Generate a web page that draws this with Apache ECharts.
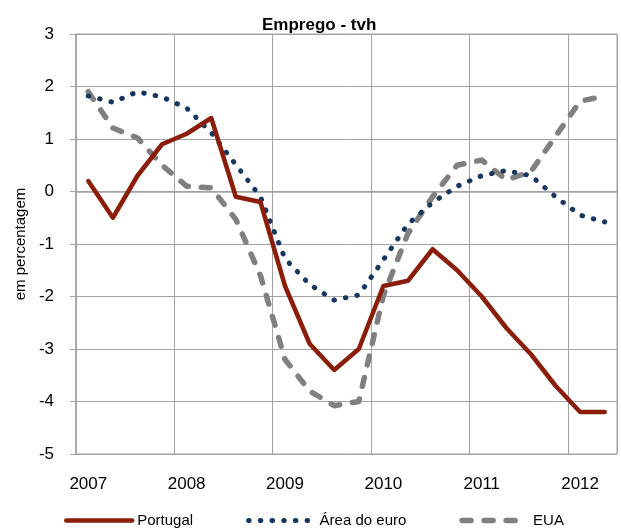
<!DOCTYPE html>
<html>
<head>
<meta charset="utf-8">
<script src="https://cdn.jsdelivr.net/npm/echarts@6/dist/echarts.min.js"></script>
<style>
html,body{margin:0;padding:0;background:#fff;}
#chart{width:621px;height:532px;}
</style>
</head>
<body>
<div id="chart"></div>
<script>
// Quarterly categories 2007 T1 .. 2012 T2
var categories = ['2007T1','2007T2','2007T3','2007T4','2008T1','2008T2','2008T3','2008T4',
  '2009T1','2009T2','2009T3','2009T4','2010T1','2010T2','2010T3','2010T4',
  '2011T1','2011T2','2011T3','2011T4','2012T1','2012T2'];
var yTicks = [-5, -4, -3, -2, -1, 0, 1, 2, 3];
var portugal = [0.2, -0.5, 0.3, 0.9, 1.1, 1.4, -0.1, -0.2, -1.8, -2.9, -3.4, -3.0,
  -1.8, -1.7, -1.1, -1.5, -2.0, -2.6, -3.1, -3.7, -4.2, -4.2];
var areaEuro = [1.82, 1.70, 1.90, 1.80, 1.59, 1.12, 0.51, -0.10, -1.28, -1.77, -2.07, -1.97,
  -1.30, -0.62, -0.21, 0.10, 0.30, 0.40, 0.30, -0.10, -0.45, -0.58];
var eua = [1.9, 1.21, 1.02, 0.5, 0.1, 0.07, -0.53, -1.6, -3.2, -3.8, -4.08, -4.0,
  -1.98, -0.8, -0.1, 0.5, 0.6, 0.22, 0.38, 1.05, 1.72, 1.82];

var FONT = "'Liberation Sans', Arial, sans-serif";
var GRID = '#A3A3A3';
var chart = echarts.init(document.getElementById('chart'), null, {renderer: 'canvas'});
chart.setOption({
  animation: false,
  backgroundColor: '#fff',
  textStyle: {fontFamily: FONT, color: '#000'},
  title: {
    text: 'Emprego - tvh',
    left: 257, top: 12,
    textStyle: {fontFamily: FONT, fontSize: 17, fontWeight: 'bold', color: '#000'}
  },
  grid: {left: 76, right: 4, top: 34, bottom: 78, show: true, borderColor: GRID, borderWidth: 1},
  legend: {
    left: 64, top: 513, padding: 0,
    itemWidth: 66, itemHeight: 14, itemGap: 53,
    textStyle: {fontFamily: FONT, fontSize: 15, color: '#000'},
    lineStyle: {width: 'inherit'},
    itemStyle: {opacity: 0},
    data: ['Portugal', 'Área do euro', 'EUA']
  },
  xAxis: {
    type: 'category',
    data: categories,
    boundaryGap: true,
    axisLine: {show: true, lineStyle: {color: GRID, width: 1.5}},
    axisTick: {show: false},
    axisLabel: {
      interval: 3, margin: 22, fontSize: 17, color: '#000', fontFamily: FONT,
      formatter: function (v) { return v.slice(0, 4); }
    },
    splitLine: {show: true, interval: 3, lineStyle: {color: GRID, width: 1}}
  },
  yAxis: {
    type: 'value',
    min: yTicks[0], max: yTicks[yTicks.length - 1], interval: 1,
    name: 'em percentagem',
    nameLocation: 'middle', nameRotate: 90, nameGap: 46,
    nameTextStyle: {fontFamily: FONT, fontSize: 15, color: '#000'},
    axisLine: {show: true, lineStyle: {color: GRID, width: 1.5}},
    axisTick: {show: true, length: 6, lineStyle: {color: GRID}},
    axisLabel: {margin: 22, fontSize: 17, color: '#000', fontFamily: FONT},
    splitLine: {show: true, lineStyle: {color: GRID, width: 1}}
  },
  series: [
    {
      name: 'Portugal', type: 'line', data: portugal, symbol: 'none',
      lineStyle: {color: '#8B1E0A', width: 4.5, cap: 'round', join: 'round'},
      itemStyle: {color: '#8B1E0A'}, z: 4
    },
    {
      name: 'Área do euro', type: 'line', data: areaEuro, symbol: 'none',
      lineStyle: {color: '#17365D', width: 5, type: [0.5, 11.2], cap: 'round', join: 'round'},
      itemStyle: {color: '#17365D'}, z: 3
    },
    {
      name: 'EUA', type: 'line', data: eua, symbol: 'none',
      lineStyle: {color: '#808080', width: 5.5, type: [9, 13], cap: 'round', join: 'round'},
      itemStyle: {color: '#808080'}, z: 2
    }
  ]
});
</script>
</body>
</html>
